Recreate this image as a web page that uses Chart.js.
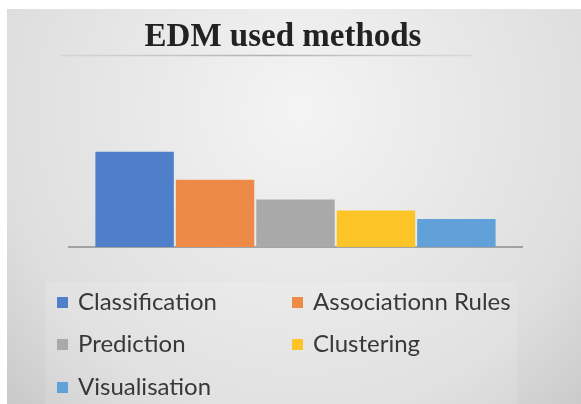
<!DOCTYPE html>
<html>
<head>
<meta charset="utf-8">
<script src="https://cdn.jsdelivr.net/npm/chart.js@4"></script>
<style>
  html, body { margin: 0; padding: 0; background: #fff; }
  #wrap { width: 581px; height: 404px; }
</style>
</head>
<body>
<div id="wrap"><canvas id="MethodsChart" width="581" height="404"></canvas></div>
<script>
// --- chart data ---
const chartTitle = "EDM used methods";
const methodNames = ["Classification", "Associationn Rules", "Prediction", "Clustering", "Visualisation"];
const methodValues = [34, 24, 17, 13, 10];
const methodColors = ["#4f7fc8", "#ee8a48", "#a9a9a9", "#fdc428", "#62a0d9"];

// background + title + axis stub + legend, all painted on the canvas
const slidePlugin = {
    id: "slide",
    beforeDraw(chart) {
        const ctx = chart.ctx;
        ctx.save();
        ctx.fillStyle = "#ffffff";
        ctx.fillRect(0, 0, chart.width, chart.height);
        const g = ctx.createRadialGradient(300, 110, 0, 300, 110, 420);
        g.addColorStop(0, "#f4f4f4");
        g.addColorStop(0.72, "#dedede");
        g.addColorStop(1, "#c8c8c8");
        ctx.fillStyle = g;
        ctx.fillRect(7, 9, chart.width - 7, chart.height - 9);

        // legend panel, a touch lighter
        ctx.fillStyle = "rgba(255,255,255,0.12)";
        ctx.fillRect(45, 282, 472, chart.height - 282);

        // title
        ctx.fillStyle = "#222222";
        ctx.font = "bold 33px 'Liberation Serif', 'DejaVu Serif', serif";
        ctx.textAlign = "center";
        ctx.textBaseline = "alphabetic";
        ctx.fillText(chartTitle, 283, 46);

        // rule under the title
        const lg = ctx.createLinearGradient(60, 0, 473, 0);
        lg.addColorStop(0, "rgba(160,160,160,0.2)");
        lg.addColorStop(0.5, "rgba(150,150,150,0.7)");
        lg.addColorStop(1, "rgba(160,160,160,0.2)");
        ctx.strokeStyle = lg;
        ctx.lineWidth = 1.5;
        ctx.beginPath();
        ctx.moveTo(60, 55.5);
        ctx.lineTo(473, 55.5);
        ctx.stroke();
        ctx.restore();
    },
    beforeDatasetsDraw(chart) {
        // category axis line, mostly hidden behind the bars
        const ctx = chart.ctx;
        const area = chart.chartArea;
        const y0 = chart.scales.y.getPixelForValue(0);
        ctx.save();
        ctx.strokeStyle = "#8c8c8c";
        ctx.lineWidth = 1.5;
        ctx.beginPath();
        ctx.moveTo(area.left, y0);
        ctx.lineTo(area.right, y0);
        ctx.stroke();
        ctx.restore();
    },
    afterDraw(chart) {
        // two-column legend like the office chart
        const ctx = chart.ctx;
        const colX = [57, 292];
        const rowY = [302, 344, 387];
        ctx.save();
        ctx.font = "24px Lato, 'Open Sans', sans-serif";
        ctx.textAlign = "left";
        ctx.textBaseline = "middle";
        chart.data.datasets.forEach((ds, i) => {
            const x = colX[i % 2];
            const y = rowY[Math.floor(i / 2)];
            ctx.fillStyle = ds.backgroundColor;
            ctx.fillRect(x, y - 5, 11, 11);
            ctx.fillStyle = "#383838";
            ctx.fillText(ds.label, x + 21, y);
        });
        ctx.restore();
    }
};

const ctxCanvas = document.getElementById("MethodsChart");
new Chart(ctxCanvas, {
    type: "bar",
    data: {
        labels: [""],
        datasets: methodNames.map((name, i) => ({
            label: name,
            data: [methodValues[i]],
            backgroundColor: methodColors[i],
            borderWidth: 0,
            barPercentage: 0.975,
            categoryPercentage: 0.884
        }))
    },
    options: {
        responsive: false,
        animation: false,
        layout: { padding: { left: 68, right: 58, top: 135, bottom: 157 } },
        scales: {
            x: { display: false },
            y: { display: false, min: 0, max: 40 }
        },
        plugins: {
            legend: { display: false },
            title: { display: false },
            tooltip: { enabled: false }
        }
    },
    plugins: [slidePlugin]
});
</script>
</body>
</html>
